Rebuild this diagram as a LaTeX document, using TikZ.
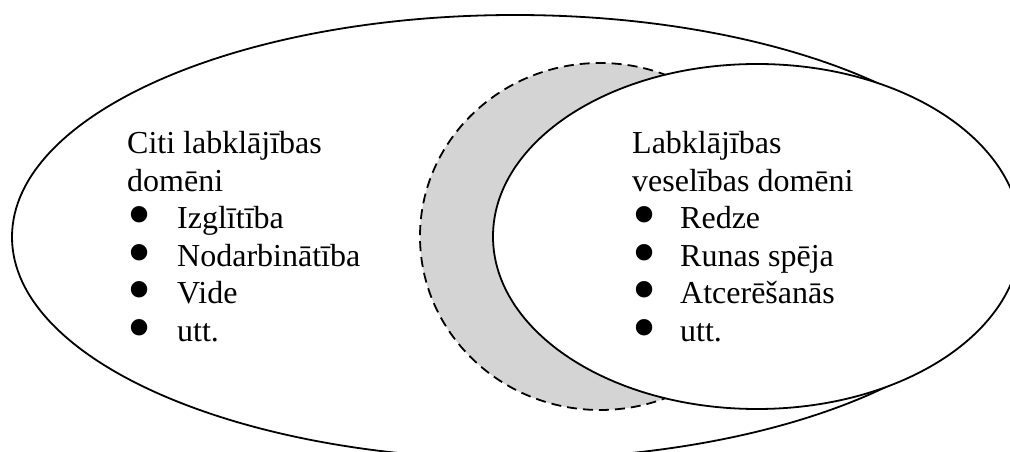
\documentclass[tikz,border=0pt]{standalone}
\usepackage{fontspec}
\setmainfont{Liberation Serif}
\usetikzlibrary{shapes.geometric}
\definecolor{crescentgray}{RGB}{212,212,212}
\newcommand{\blt}{\raisebox{0.5pt}{$\vcenter{\hbox{\scalebox{2.15}{\textbullet}}}$}}

\begin{document}
\begin{tikzpicture}[x=1pt,y=1pt,
    domainring/.style={ellipse,draw=black,line width=1.8pt,inner sep=0pt},
    listtext/.style={anchor=base west,inner sep=0pt,font=\fontsize{32}{37.6}\selectfont}]
  \useasboundingbox (0,0) rectangle (1010,452);
  \clip (0,0) rectangle (1010,452);
  % the three domains
  \node[domainring,minimum width=1006pt,minimum height=444pt] (allwell) at (515,215) {};
  \node[domainring,dashed,dash pattern=on 10pt off 6pt,fill=crescentgray,
        minimum width=360pt,minimum height=347pt] (overlap) at (600,215.5) {};
  \node[domainring,fill=white,minimum width=528pt,minimum height=345pt] (healthwell) at (757,215.5) {};
  % lists
  \node[listtext] (others) at (127,298.5) {\begin{tabular}[t]{@{}p{50pt}@{}l@{}}
      \multicolumn{2}{@{}l@{}}{Citi labklājības}\\
      \multicolumn{2}{@{}l@{}}{domēni}\\
      \blt & Izglītība\\
      \blt & Nodarbinātība\\
      \blt & Vide\\
      \blt & utt.
    \end{tabular}};
  \node[listtext] (health) at (632,298.5) {\begin{tabular}[t]{@{}p{48pt}@{}l@{}}
      \multicolumn{2}{@{}l@{}}{Labklājības}\\
      \multicolumn{2}{@{}l@{}}{veselības domēni}\\
      \blt & Redze\\
      \blt & Runas spēja\\
      \blt & Atcerēšanās\\
      \blt & utt.
    \end{tabular}};
\end{tikzpicture}
\end{document}
